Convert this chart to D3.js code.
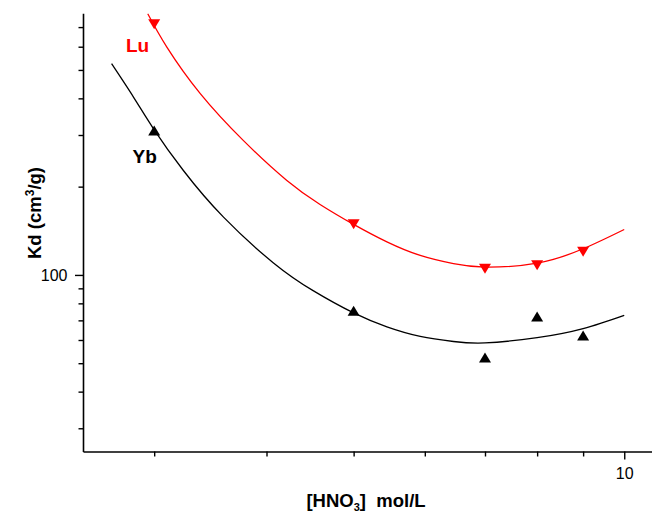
<!DOCTYPE html>
<html>
<head>
<meta charset="utf-8">
<script src="https://cdn.jsdelivr.net/npm/d3@7"></script>
<style>
  html, body { margin: 0; padding: 0; background: #fff; }
  svg { display: block; font-family: "Liberation Sans", Arial, Helvetica, sans-serif; }
</style>
</head>
<body>
<svg id="chart" width="652" height="513"></svg>
<script>
// HNO3 concentration (mol/L) for each measurement
const acid = [3, 5, 7, 8, 9];
// Distribution coefficients Kd (cm3/g)
const kdLu = [716, 149, 105, 108, 120];
const kdYb = [311, 75.5, 52.3, 72.2, 62.1];

// Fitted trend curves (sampled)
const luFitX = [2.951, 3.099, 3.376, 3.771, 4.214, 4.588, 5.0, 5.445, 5.93, 6.457, 7, 8, 9, 10];
const luFitY = [777, 598, 415, 287, 210, 173.9, 148.7, 129.6, 116.5, 109.2, 106.3, 109.7, 122.8, 142.9];
const ybFitX = [2.69, 2.845, 2.995, 3.233, 3.583, 4.072, 4.512, 5.0, 5.445, 5.93, 6.457, 7, 8, 9, 10];
const ybFitY = [525, 404, 315, 227, 157.4, 109.9, 88.2, 74.2, 66.5, 61.7, 59.3, 58.65, 61.1, 65.6, 72.8];

// Axis ticks
const xTicks = [3, 4, 5, 6, 7, 8, 9, 10];
const xLabelled = [10];
const yTicks = [30, 40, 50, 60, 70, 80, 90, 100, 200, 300, 400, 500, 600, 700];
const yLabelled = [100];

const svg = d3.select("#chart");
const plotLeft = 83, plotBottom = 451.5, plotTop = 13.3;

const x = d3.scaleLog().domain([2.5, 11]).range([plotLeft, plotLeft + 899 * Math.log10(11 / 2.5)]);
const y = d3.scaleLog().domain([25, 780]).range([plotBottom, plotTop]);

svg.append("rect").attr("width", 652).attr("height", 513).attr("fill", "#fff");

svg.append("clipPath").attr("id", "plot")
  .append("rect").attr("x", plotLeft).attr("y", plotTop)
  .attr("width", 652 - plotLeft).attr("height", plotBottom - plotTop);

// Axes
const xAxis = d3.axisBottom(x).tickValues(xTicks).tickSize(8).tickSizeOuter(0).tickPadding(8)
  .tickFormat(d => xLabelled.includes(d) ? d3.format("d")(d) : "");
const gx = svg.append("g").attr("transform", `translate(0,${plotBottom})`).call(xAxis);

const yAxis = d3.axisLeft(y).tickValues(yTicks).tickSize(8).tickSizeOuter(0).tickPadding(7.5)
  .tickFormat(d => yLabelled.includes(d) ? d3.format("d")(d) : "");
const gy = svg.append("g").attr("transform", `translate(${plotLeft},0)`).call(yAxis);

[gx, gy].forEach(g => {
  g.select(".domain").attr("stroke", "#000").attr("stroke-width", 1.6);
  g.selectAll(".tick line").attr("stroke", "#000").attr("stroke-width", 1.4);
  g.selectAll(".tick text").attr("fill", "#000").attr("font-size", 16)
    .attr("font-family", "'Liberation Sans', Arial, sans-serif");
});
gx.selectAll(".tick line").filter(d => !xLabelled.includes(d)).attr("y2", 5);
gy.selectAll(".tick line").filter(d => !yLabelled.includes(d)).attr("x2", -4.5);

// Fit curves
const line = d3.line().x(d => x(d[0])).y(d => y(d[1])).curve(d3.curveNatural);
const plot = svg.append("g").attr("clip-path", "url(#plot)");
plot.append("path").datum(luFitX.map((v, i) => [v, luFitY[i]]))
  .attr("d", line).attr("fill", "none").attr("stroke", "#ff0000").attr("stroke-width", 1.3);
plot.append("path").datum(ybFitX.map((v, i) => [v, ybFitY[i]]))
  .attr("d", line).attr("fill", "none").attr("stroke", "#000").attr("stroke-width", 1.3);

// Markers: Lu as down-pointing, Yb as up-pointing triangles
const tri = (cx, cy, down) => down
  ? `M${cx - 6},${cy - 5}L${cx + 6},${cy - 5}L${cx},${cy + 5}Z`
  : `M${cx - 6},${cy + 5}L${cx + 6},${cy + 5}L${cx},${cy - 5}Z`;
svg.append("g").selectAll("path").data(acid.map((v, i) => [v, kdLu[i]])).join("path")
  .attr("d", d => tri(x(d[0]), y(d[1]), true)).attr("fill", "#ff0000");
svg.append("g").selectAll("path").data(acid.map((v, i) => [v, kdYb[i]])).join("path")
  .attr("d", d => tri(x(d[0]), y(d[1]), false)).attr("fill", "#000");

// Series labels
svg.append("text").attr("x", 126).attr("y", 52.3).attr("font-size", 19).attr("font-weight", "bold")
  .attr("fill", "#ff0000").text("Lu");
svg.append("text").attr("x", 132.5).attr("y", 163.3).attr("font-size", 19).attr("font-weight", "bold")
  .attr("fill", "#000").text("Yb");

// Axis titles
const xt = svg.append("text").attr("x", 366).attr("y", 506.5).attr("text-anchor", "middle")
  .attr("font-size", 18.5).attr("font-weight", "bold").attr("fill", "#000");
xt.append("tspan").text("[HNO");
xt.append("tspan").attr("font-size", 11).attr("dy", 4).text("3");
xt.append("tspan").attr("dy", -4).text("]\u00a0\u00a0mol/L");

const yt = svg.append("text").attr("transform", "translate(41,213) rotate(-90)").attr("text-anchor", "middle")
  .attr("font-size", 18.5).attr("font-weight", "bold").attr("fill", "#000");
yt.append("tspan").text("Kd (cm");
yt.append("tspan").attr("font-size", 12).attr("dy", -7).text("3");
yt.append("tspan").attr("dy", 7).text("/g)");
</script>
</body>
</html>
